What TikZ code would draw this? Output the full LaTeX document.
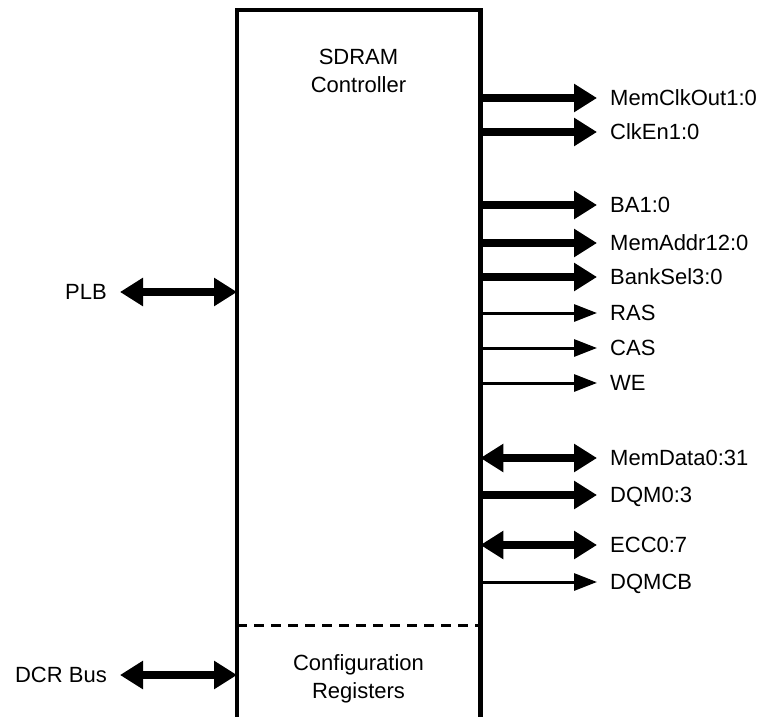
\documentclass[tikz,border=0pt]{standalone}
\usepackage{fontspec}
\setmainfont{Liberation Sans}
\usetikzlibrary{arrows.meta, positioning}

\begin{document}
\begin{tikzpicture}[
          x=1pt, y=-1pt,
          font=\fontsize{22}{28}\selectfont,
          wall/.style={line width=4.5pt},
          split/.style={line width=3pt, dash pattern=on 10pt off 7pt},
          sig/.style={anchor=west, inner sep=0pt, inner xsep=13pt,
                      text height=15.8pt, text depth=0pt},
          bus/.style={line width=8pt, -{Triangle[length=23pt, width=27pt]}},
          bidir/.style={line width=8pt,
                        {Triangle[length=23pt, width=27pt]}-{Triangle[length=23pt, width=27pt]}},
          wire/.style={line width=3pt, -{Triangle[length=23pt, width=17pt]}}
        ]
          \useasboundingbox (0,0) rectangle (763,717);
          % controller block, open at the bottom
          \node[minimum width=243pt, minimum height=720pt, inner sep=0pt,
                anchor=north west] (ctrl) at (237,10) {};
          \draw[wall] (ctrl.south west) -- (ctrl.north west)
                      -- (ctrl.north east) -- (ctrl.south east);
          \node[align=center] (title) at (358.5,70.5) {SDRAM\\Controller};
          \coordinate (cfgl) at (237,625);
          \coordinate (cfgr) at (480,625);
          \draw[split] (cfgl) -- (cfgr);
          \node[align=center] (cfg) at (358.5,678.5) {Configuration\\Registers};
          % bus side
          \node[sig, anchor=east] (plb) at (120,292) {PLB};
          \node[sig, anchor=east] (dcr) at (120,675) {DCR Bus};
          \draw[bidir] (plb.east) -- (ctrl.west |- plb.east);
          \draw[bidir] (dcr.east) -- (ctrl.west |- dcr.east);
          % memory side
          \node[sig] (clkout) at (597,98)  {MemClkOut1:0};
          \node[sig] (clken)  at (597,132) {ClkEn1:0};
          \node[sig] (ba)     at (597,205) {BA1:0};
          \node[sig] (addr)   at (597,243) {MemAddr12:0};
          \node[sig] (bank)   at (597,277) {BankSel3:0};
          \node[sig] (ras)    at (597,313) {RAS};
          \node[sig] (cas)    at (597,348) {CAS};
          \node[sig] (we)     at (597,383) {WE};
          \node[sig] (data)   at (597,458) {MemData0:31};
          \node[sig] (dqm)    at (597,495) {DQM0:3};
          \node[sig] (ecc)    at (597,545) {ECC0:7};
          \node[sig] (dqmcb)  at (597,582) {DQMCB};
          \draw[bus] (ctrl.east |- clkout.west) -- (clkout.west);
          \draw[bus] (ctrl.east |- clken.west) -- (clken.west);
          \draw[bus] (ctrl.east |- ba.west) -- (ba.west);
          \draw[bus] (ctrl.east |- addr.west) -- (addr.west);
          \draw[bus] (ctrl.east |- bank.west) -- (bank.west);
          \draw[wire] (ctrl.east |- ras.west) -- (ras.west);
          \draw[wire] (ctrl.east |- cas.west) -- (cas.west);
          \draw[wire] (ctrl.east |- we.west) -- (we.west);
          \draw[bidir] (ctrl.east |- data.west) -- (data.west);
          \draw[bus] (ctrl.east |- dqm.west) -- (dqm.west);
          \draw[bidir] (ctrl.east |- ecc.west) -- (ecc.west);
          \draw[wire] (ctrl.east |- dqmcb.west) -- (dqmcb.west);
        \end{tikzpicture}
\end{document}
